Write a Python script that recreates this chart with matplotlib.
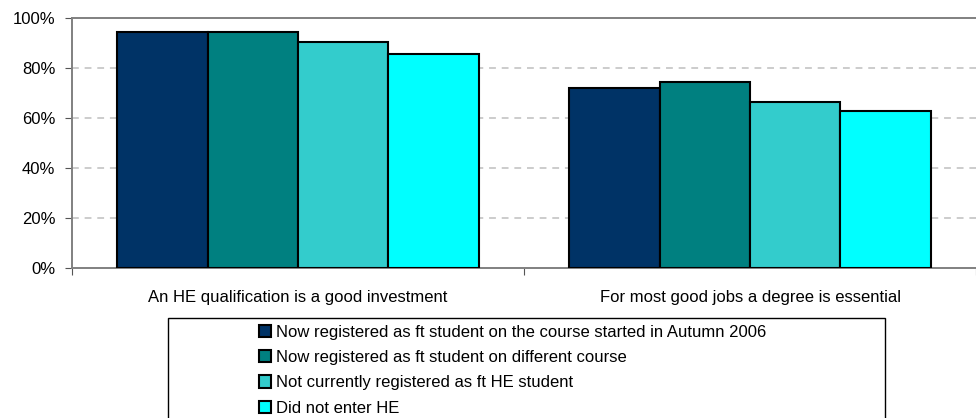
import matplotlib
matplotlib.use("Agg")
import matplotlib.pyplot as plt
import numpy as np
from matplotlib.patches import Rectangle

plt.rcParams['font.family'] = ['Liberation Sans', 'DejaVu Sans']

categories = ["An HE qualification is a good investment",
              "For most good jobs a degree is essential"]
series_names = ["Now registered as ft student on the course started in Autumn 2006",
                "Now registered as ft student on different course",
                "Not currently registered as ft HE student",
                "Did not enter HE"]
values = {
    series_names[0]: [94.4, 72.1],
    series_names[1]: [94.6, 74.3],
    series_names[2]: [90.5, 66.3],
    series_names[3]: [85.5, 62.7],
}
colors = ["#003366", "#008080", "#33CCCC", "#00FFFF"]
yticks = [0, 20, 40, 60, 80, 100]
ytick_labels = ["0%", "20%", "40%", "60%", "80%", "100%"]

W, H = 976, 418
fig = plt.figure(figsize=(W / 100, H / 100), dpi=100)
ax = fig.add_axes([72 / W, 1 - 268 / H, 904 / W, 250 / H])

x = np.arange(len(categories))
bw = 0.2
handles = []
for i, name in enumerate(series_names):
    b = ax.bar(x - 0.3 + i * bw, values[name], width=bw, color=colors[i],
               edgecolor="black", linewidth=1.5, label=name, zorder=3)
    handles.append(b)

ax.set_xlim(-0.5, -0.5 + 904 / 458)
ax.set_ylim(0, 100)
ax.set_yticks(yticks)
ax.set_yticklabels(ytick_labels, fontsize=12)
for yv in yticks[1:-1]:
    ax.axhline(yv, color="#cccccc", linestyle=(0, (3.5, 3)), linewidth=1.4, zorder=1)

ax.set_xticks([-0.5, 0.5, 1.5])
ax.set_xticklabels([])
ax.set_xticks(x, minor=True)
ax.set_xticklabels(categories, minor=True, fontsize=12)
ax.tick_params(axis="x", which="minor", length=0, pad=16)
ax.tick_params(axis="x", which="major", length=5, direction="out", color="#555555")
ax.tick_params(axis="y", length=5, direction="out", color="#555555", pad=7)

for s in ["left", "bottom", "top"]:
    ax.spines[s].set_color("#808080")
    ax.spines[s].set_linewidth(1.4)
ax.spines["right"].set_visible(False)

# legend frame
fig.patches.append(Rectangle((168 / W, -0.01), (885 - 168) / W, 1 - 318 / H + 0.01,
                             transform=fig.transFigure, fill=False,
                             edgecolor="black", linewidth=1.0))
leg = fig.legend(handles=handles, labels=series_names,
                 loc="upper left", bbox_to_anchor=(247 / W, 1 - 313 / H),
                 frameon=False, fontsize=12, handlelength=0.75, handleheight=0.75,
                 handletextpad=0.3, labelspacing=0.62, borderpad=0.2)

fig.savefig("out.png", dpi=100)
